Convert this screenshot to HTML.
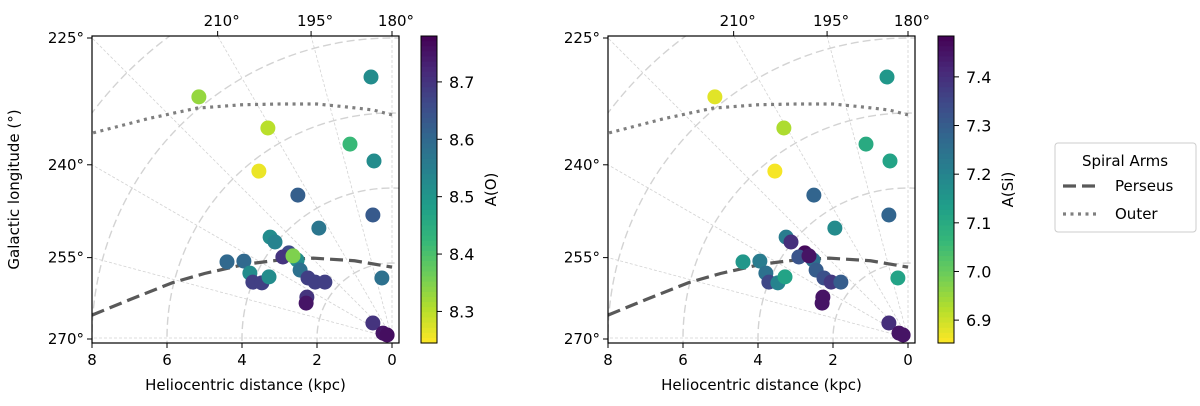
<!DOCTYPE html>
<html><head><meta charset="utf-8"><style>
html,body{margin:0;padding:0;background:#fff;width:1200px;height:406px;overflow:hidden;}
svg{display:block;font-family:"DejaVu Sans","Liberation Sans",sans-serif;}
</style></head><body>
<svg id="chart" width="1200" height="406" viewBox="0 0 1200 406" xmlns="http://www.w3.org/2000/svg"></svg>
<script>
// ---- data ----
const distX = [0.56,5.15,3.31,1.12,0.48,3.55,2.51,0.51,1.95,3.25,3.12,2.75,2.91,2.53,2.64,4.40,3.95,2.45,3.79,3.71,3.47,3.28,2.24,2.05,1.79,0.27,2.27,2.29,0.51,0.24,0.13];
const distY = [6.96,6.43,5.60,5.17,4.72,4.45,3.81,3.28,2.93,2.69,2.56,2.27,2.16,2.08,2.19,2.03,2.05,1.81,1.73,1.49,1.47,1.63,1.60,1.49,1.49,1.60,1.09,0.93,0.40,0.13,0.08];
const abundO = [8.52,8.33,8.30,8.42,8.52,8.26,8.62,8.63,8.57,8.52,8.54,8.66,8.70,8.52,8.35,8.60,8.60,8.58,8.52,8.68,8.68,8.52,8.68,8.68,8.68,8.58,8.70,8.75,8.70,8.75,8.76];
const abundSi = [7.15,6.88,6.93,7.10,7.12,6.86,7.28,7.28,7.18,7.22,7.40,7.47,7.32,7.25,7.45,7.15,7.22,7.30,7.25,7.35,7.20,7.12,7.33,7.38,7.30,7.12,7.45,7.45,7.40,7.45,7.45];
const persX = [8,7,5.84,5,3.89,3,2.1,1,0];
const persY = [0.61,1.02,1.48,1.72,1.97,2.08,2.13,2.06,1.89];
const outerX = [7.97,6.5,5.2,4,3,2,1.2,0.5,0];
const outerY = [5.47,5.85,6.13,6.22,6.24,6.24,6.16,6.08,5.95];
const xTicks = [8,6,4,2,0];
const lonTicks = [225,240,255,270];
const topTicks = [210,195,180];
const ticksO = [8.3,8.4,8.5,8.6,8.7];
const ticksSi = [6.9,7.0,7.1,7.2,7.3,7.4];

const NS="http://www.w3.org/2000/svg";
const svg=document.getElementById('chart');
function el(tag,attrs,parent){const e=document.createElementNS(NS,tag);for(const k in attrs)e.setAttribute(k,attrs[k]);(parent||svg).appendChild(e);return e;}
const VIR=[[68,1,84],[72,40,120],[62,74,137],[49,104,142],[38,130,142],[31,158,137],[53,183,121],[109,205,89],[180,222,44],[253,231,37]];
function viridis(t){t=Math.max(0,Math.min(1,t));const s=t*(VIR.length-1);const i=Math.min(Math.floor(s),VIR.length-2);const f=s-i;const c=VIR[i].map((v,k)=>Math.round(v+(VIR[i+1][k]-v)*f));return `rgb(${c[0]},${c[1]},${c[2]})`;}

const S=37.5, OY=338, TOP=36, BOT=343;
function panel(ox,vals,vmin,vmax,cticks,clabel,name,cbx,clabelX){
  const g=el('g',{});
  
  
  const L=ox, R=ox+307, O=ox+300;
  const sx=X=>O-X*S, sy=Y=>OY-Y*S;
  const cid='clip'+name;
  const cp=el('clipPath',{id:cid},g);el('rect',{x:L,y:TOP,width:R-L,height:BOT-TOP},cp);
  const gr=el('g',{'clip-path':`url(#${cid})`},g);
  for(let r=2;r<=10;r+=2){const c=el('circle',{cx:O,cy:OY,r:r*S,fill:'none',stroke:'#d3d3d3','stroke-width':1.4,'stroke-dasharray':'8,4'},gr);
    
    }
  for(let l=180;l<=270;l+=15){const a=(l-180)*Math.PI/180;const ln=el('line',{x1:O,y1:OY,x2:O-600*Math.sin(a),y2:OY-600*Math.cos(a),stroke:'#d3d3d3','stroke-width':0.8,'stroke-dasharray':'3,2'},gr);
    
    }
  const pp=el('polyline',{points:persX.map((x,i)=>sx(x)+','+sy(persY[i])).join(' '),fill:'none',stroke:'#595959','stroke-width':3.2,'stroke-dasharray':'13,6'},gr);
  
  
  const op=el('polyline',{points:outerX.map((x,i)=>sx(x)+','+sy(outerY[i])).join(' '),fill:'none',stroke:'#7f7f7f','stroke-width':3.2,'stroke-dasharray':'3,4.5'},gr);
  
  
  distX.forEach((x,i)=>{const c=el('circle',{cx:sx(x),cy:sy(distY[i]),r:7.5,fill:viridis(1-(vals[i]-vmin)/(vmax-vmin))},gr);
    
    });
  const fr=el('rect',{x:L,y:TOP,width:R-L,height:BOT-TOP,fill:'none',stroke:'#000','stroke-width':1.2},g);
  
  
  xTicks.forEach(v=>{const x=sx(v);el('line',{x1:x,y1:BOT,x2:x,y2:BOT+5,stroke:'#000'},g);
    const t=el('text',{x:x,y:BOT+22,'text-anchor':'middle','font-size':15},g);t.textContent=v;
    
    });
  lonTicks.forEach(l=>{const a=(l-180)*Math.PI/180;const y=Math.min(OY-(O-L)/Math.tan(a),OY)+(l===270?1:0);
    el('line',{x1:L,y1:y,x2:L-5,y2:y,stroke:'#000'},g);
    const t=el('text',{x:L-8,y:y+5,'text-anchor':'end','font-size':15},g);t.textContent=l+'°';
    
    });
  topTicks.forEach(l=>{const a=(l-180)*Math.PI/180;const x=O-(OY-TOP)*Math.tan(a);
    el('line',{x1:x,y1:TOP,x2:x,y2:TOP-5,stroke:'#000'},g);
    const t=el('text',{x:x+4,y:TOP-10,'text-anchor':'middle','font-size':15},g);t.textContent=l+'°';
    
    });
  const xl=el('text',{x:(L+R)/2,y:390,'text-anchor':'middle','font-size':15},g);xl.textContent='Heliocentric distance (kpc)';
  
  
  if(ox<300){const yl=el('text',{x:0,y:0,'text-anchor':'middle','font-size':15,transform:`translate(19,${(TOP+BOT)/2}) rotate(-90)`},g);yl.textContent='Galactic longitude (°)';
    
    }
  // colorbar
  const cb=el('g',{},g);
  
  
  const n=60,h=(BOT-TOP)/n;
  for(let i=0;i<n;i++){el('rect',{x:cbx,y:TOP+i*h,width:16,height:h+0.6,fill:viridis((i+0.5)/n)},cb);}
  el('rect',{x:cbx,y:TOP,width:16,height:BOT-TOP,fill:'none',stroke:'#000','stroke-width':1},cb);
  const cy=v=>BOT-(v-vmin)/(vmax-vmin)*(BOT-TOP);
  cticks.forEach(v=>{el('line',{x1:cbx+16,y1:cy(v),x2:cbx+21,y2:cy(v),stroke:'#000'},cb);
    const t=el('text',{x:cbx+28,y:cy(v)+6,'font-size':16},cb);t.textContent=v.toFixed(1);
    
    });
  const cl=el('text',{x:0,y:0,'text-anchor':'middle','font-size':15,transform:`translate(${clabelX},${(TOP+BOT)/2}) rotate(-90)`},cb);cl.textContent=clabel;
  
  
}
panel(92,abundO,8.245,8.78,ticksO,'A(O)','panel-oxygen',421,496);
panel(608,abundSi,6.853,7.484,ticksSi,'A(Si)','panel-silicon',938,1013);

// legend
const lg=el('g',{});


el('rect',{x:1055,y:143,width:141,height:89,rx:3,fill:'#fff',stroke:'#ccc'},lg);
const lt=el('text',{x:1125,y:166,'text-anchor':'middle','font-size':15},lg);lt.textContent='Spiral Arms';


el('line',{x1:1063,y1:186,x2:1097,y2:186,stroke:'#595959','stroke-width':3.2,'stroke-dasharray':'13,6'},lg);
const l1=el('text',{x:1115,y:191,'font-size':15},lg);l1.textContent='Perseus';


el('line',{x1:1063,y1:214,x2:1097,y2:214,stroke:'#7f7f7f','stroke-width':3.2,'stroke-dasharray':'3,4.5'},lg);
const l2=el('text',{x:1115,y:219,'font-size':15},lg);l2.textContent='Outer';


</script>
</body></html>
